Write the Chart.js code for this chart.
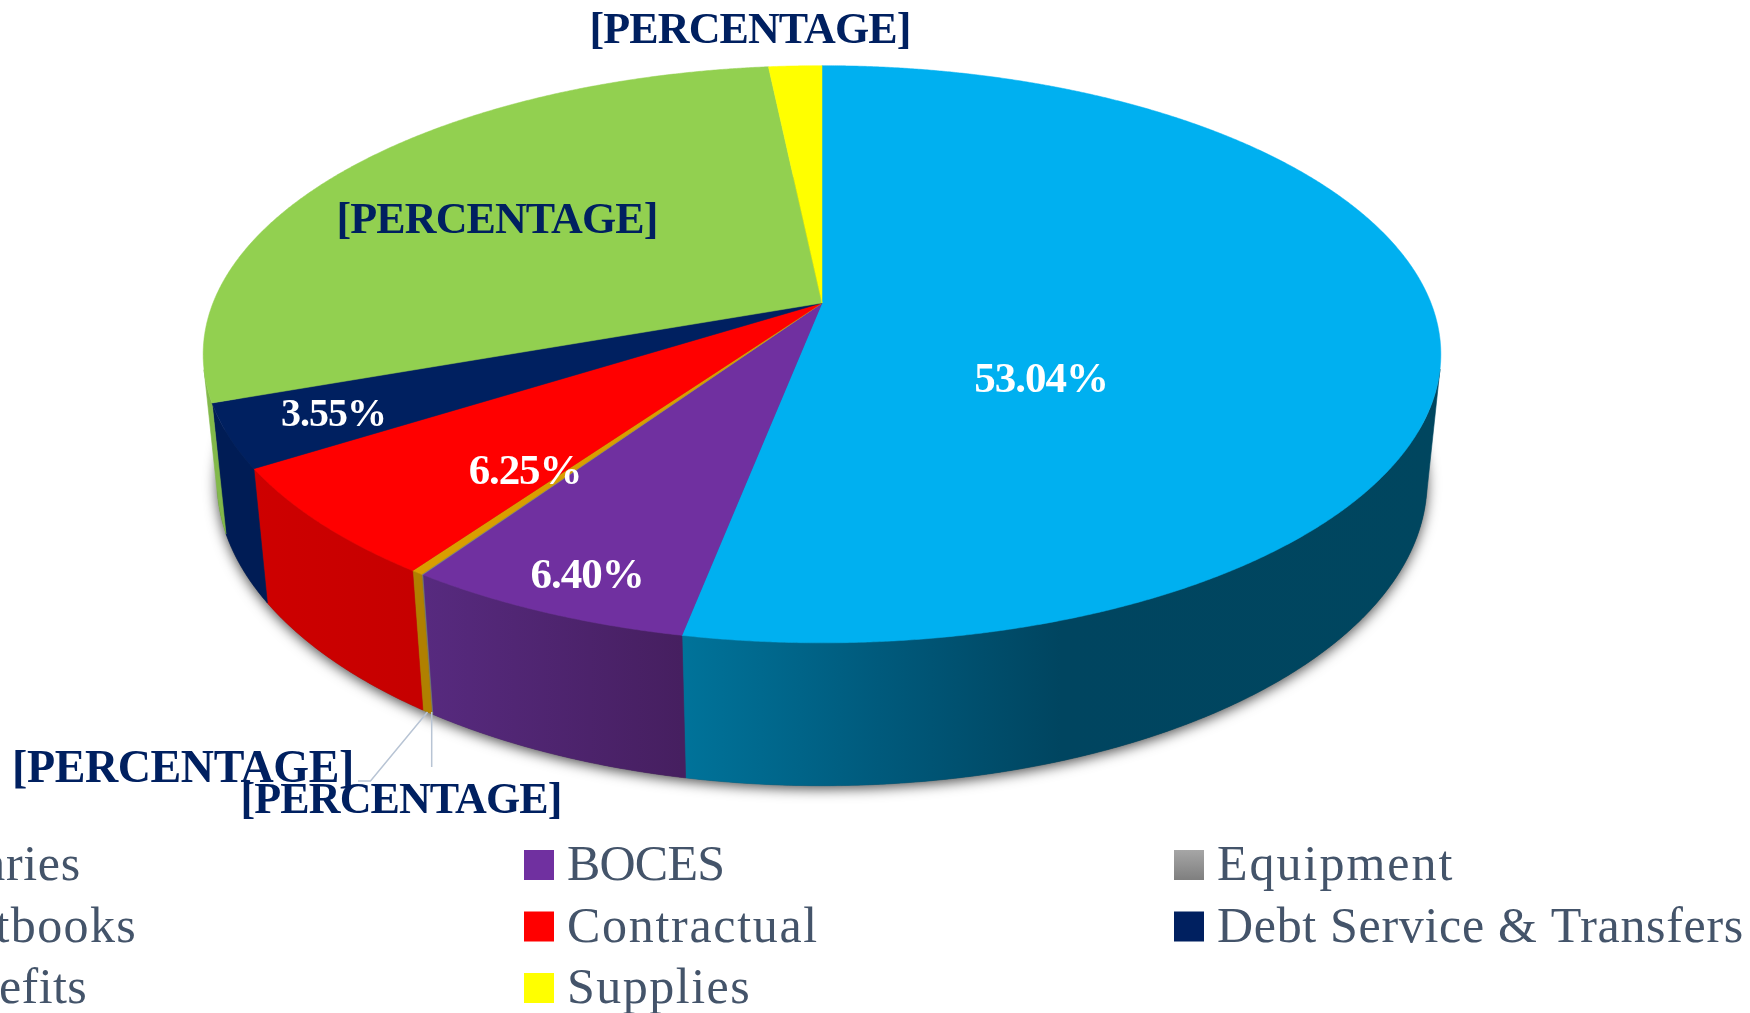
<!DOCTYPE html>
<html><head><meta charset="utf-8">
<style>html,body{margin:0;padding:0;background:#fff;overflow:hidden}canvas{display:block}</style>
<script src="https://cdn.jsdelivr.net/npm/chart.js@4/dist/chart.umd.js"></script>
</head><body>
<canvas id="c" width="1750" height="1013"></canvas>
<script>
// ---- data ----
const categories = ["Salaries","BOCES","Equipment","Textbooks","Contractual","Debt Service & Transfers","Benefits","Supplies"];
const shares     = [53.04, 6.40, 0.03, 0.27, 6.25, 3.55, 28.81, 1.65];
const sliceLabels = ["53.04%","6.40%","[PERCENTAGE]","[PERCENTAGE]","6.25%","3.55%","[PERCENTAGE]","[PERCENTAGE]"];

// ---- styles ----
const topColors  = ["#00B0F0","#7030A0","#7F8A8A","#D99E00","#FF0000","#002060","#92D050","#FFFF00"];
const wallStops  = [
  [[0,"#00739A"],[0.26,"#005A7C"],[0.5,"#004560"],[1,"#00465F"]],
  [[0,"#572A7F"],[1,"#461F60"]],
  [[0,"#6F7A7A"],[1,"#6F7A7A"]],
  [[0,"#B08000"],[1,"#B08000"]],
  [[0,"#CE0000"],[1,"#C60000"]],
  [[0,"#001C55"],[1,"#001C55"]],
  [[0,"#82B94A"],[1,"#82B94A"]],
  [[0,"#E0E000"],[1,"#E0E000"]]
];
const SERIF = '"Liberation Serif", serif';
const labelBoxes = [
  {x:1041,y:380.5,c:"#fff",s:43,ls:-1.0},
  {x:587,y:576.5,c:"#fff",s:43,ls:-1.0},
  {x:183,y:770.5,c:"#002060",s:46,ls:-0.4},
  {x:401,y:801.5,c:"#002060",s:44,ls:-0.9},
  {x:525,y:472.5,c:"#fff",s:43,ls:-1.15},
  {x:333.5,y:416,c:"#fff",s:40,ls:-1.0},
  {x:497,y:222,c:"#002060",s:44,ls:-0.9},
  {x:750,y:31.5,c:"#002060",s:44,ls:-0.9}
];
const legendCols = [-126, 524, 1174];
const legendRows = [850, 911.5, 973];
const legendTextGap = 43;
const legendSpacing = [0.7,-0.8,2.0,1.4,1.7,0.68,0.45,1.5];

// ---- 3D view: perspective projection of the pie's top and base planes ----
const view = {cx:822, cy:303, A:609, B:279.5, k:0.1776, depthY:128.1, depthW:0.022};
function project(a){
  const u=Math.cos(a), v=Math.sin(a), w=1-view.k*v;
  return {x:view.cx+view.A*u/w, y:view.cy+view.B*v/w};
}
function lower(a){
  const u=Math.cos(a), v=Math.sin(a), w=1-view.k*v+view.depthW;
  return {x:view.cx+view.A*u/w, y:view.cy+(view.B*v+view.depthY)/w};
}
function frontFacing(a){
  const p=project(a), q=project(a+1e-3), l=lower(a);
  return (q.x-p.x)*(l.y-p.y)-(q.y-p.y)*(l.x-p.x) < 0;
}

const pie3d = {
  id:'pie3d',
  beforeDatasetsDraw(chart){
    const ctx=chart.ctx, arcs=chart.getDatasetMeta(0).data, STEP=0.004;
    ctx.save();
    // soft shadow cast by the base disc
    ctx.save();
    ctx.shadowColor='rgba(0,0,0,0.7)'; ctx.shadowBlur=13; ctx.shadowOffsetY=3;
    ctx.fillStyle='#444';
    ctx.beginPath();
    for(let a=0;a<Math.PI*2;a+=0.01){const l=lower(a); a===0?ctx.moveTo(l.x,l.y):ctx.lineTo(l.x,l.y);}
    ctx.closePath(); ctx.fill();
    ctx.restore();
    // walls
    arcs.forEach((el,i)=>{
      const {startAngle,endAngle}=el.getProps(['startAngle','endAngle'],true);
      const angs=[];
      for(let a=startAngle;a<endAngle+STEP/2;a+=STEP){const t=Math.min(a,endAngle); if(frontFacing(t)) angs.push(t);}
      if(frontFacing(endAngle)) angs.push(endAngle);
      if(angs.length<2) return;
      let minX=Infinity,maxX=-Infinity;
      angs.forEach(a=>{const p=project(a);minX=Math.min(minX,p.x);maxX=Math.max(maxX,p.x);});
      const g=ctx.createLinearGradient(minX,0,maxX,0);
      wallStops[i].forEach(s=>g.addColorStop(s[0],s[1]));
      ctx.beginPath();
      angs.forEach((a,j)=>{const p=project(a); j?ctx.lineTo(p.x,p.y):ctx.moveTo(p.x,p.y);});
      for(let j=angs.length-1;j>=0;j--){const l=lower(angs[j]);ctx.lineTo(l.x,l.y);}
      ctx.closePath();
      ctx.fillStyle=g; ctx.strokeStyle=g; ctx.lineWidth=0.6; ctx.fill(); ctx.stroke();
    });
    // top faces
    arcs.forEach((el,i)=>{
      const {startAngle,endAngle}=el.getProps(['startAngle','endAngle'],true);
      ctx.beginPath(); ctx.moveTo(view.cx,view.cy);
      for(let a=startAngle;a<endAngle;a+=STEP){const p=project(a);ctx.lineTo(p.x,p.y);}
      const e=project(endAngle);ctx.lineTo(e.x,e.y);
      ctx.closePath();
      const c=el.options.backgroundColor;
      ctx.fillStyle=c; ctx.strokeStyle=c; ctx.lineWidth=0.5; ctx.fill(); ctx.stroke();
    });
    ctx.restore();
    return false;
  },
  afterDraw(chart){
    const ctx=chart.ctx;
    ctx.save();
    // leader lines
    ctx.strokeStyle='#B8C4D4'; ctx.lineWidth=1.5;
    ctx.beginPath(); ctx.moveTo(427.5,712); ctx.lineTo(370.5,781); ctx.lineTo(358,781); ctx.stroke();
    ctx.beginPath(); ctx.moveTo(431.7,712); ctx.lineTo(431.7,767); ctx.stroke();
    // slice labels
    ctx.textAlign='center'; ctx.textBaseline='middle';
    sliceLabels.forEach((t,i)=>{
      const b=labelBoxes[i];
      ctx.font='bold '+b.s+'px '+SERIF; ctx.fillStyle=b.c;
      ctx.letterSpacing=b.ls+'px';
      ctx.fillText(t,b.x,b.y);
    });
    // legend (row-wise, same order as the slices)
    ctx.textAlign='left'; ctx.textBaseline='alphabetic'; ctx.font='50px '+SERIF;
    categories.forEach((name,i)=>{
      const x=legendCols[i%3], y=legendRows[Math.floor(i/3)];
      let fill=topColors[i];
      if(name==='Equipment'){const g=ctx.createLinearGradient(0,y,0,y+30);g.addColorStop(0,'#A6A6A6');g.addColorStop(1,'#7F7F7F');fill=g;}
      ctx.fillStyle=fill; ctx.fillRect(x,y,30,30);
      ctx.letterSpacing=legendSpacing[i]+'px';
      ctx.fillStyle='#44546A'; ctx.fillText(name,x+legendTextGap,y+30);
    });
    ctx.restore();
  }
};

new Chart(document.getElementById('c'),{
  type:'pie',
  data:{labels:categories,datasets:[{data:shares,backgroundColor:topColors,borderWidth:0}]},
  options:{responsive:false,animation:false,events:[],
    plugins:{legend:{display:false},tooltip:{enabled:false}}},
  plugins:[pie3d]
});
</script>
</body></html>
